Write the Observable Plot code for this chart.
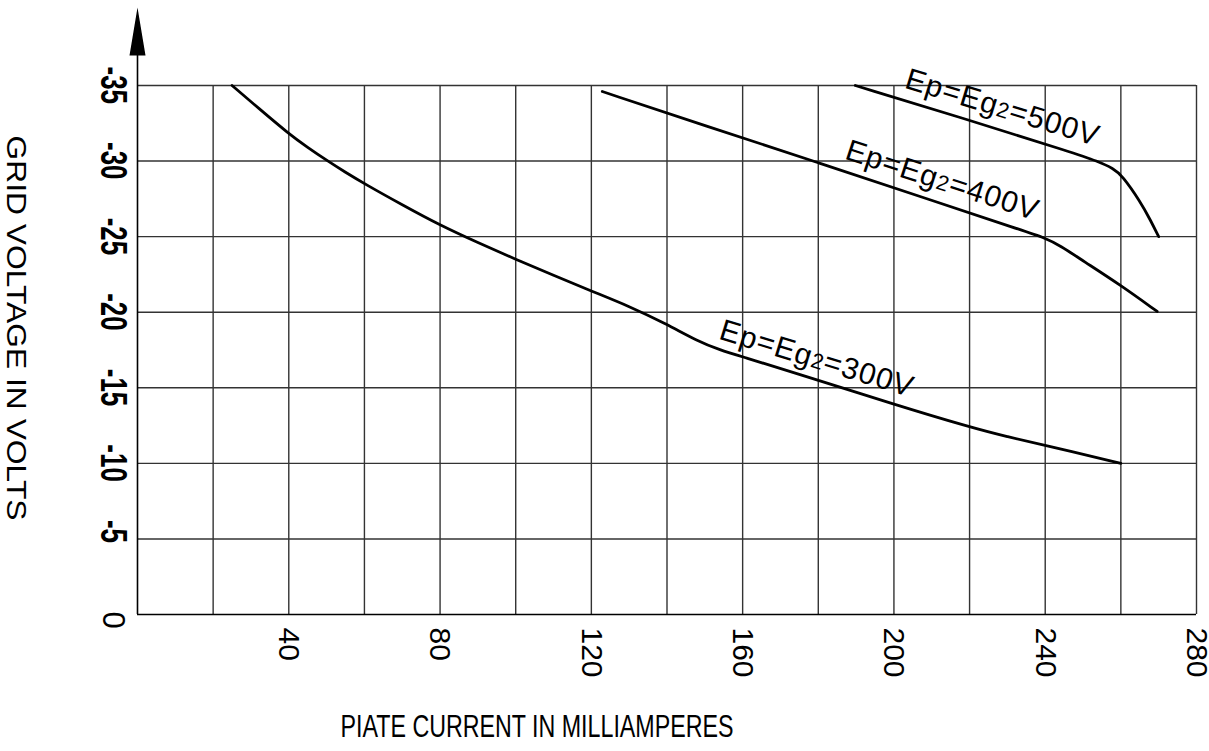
<!DOCTYPE html>
<html>
<head>
<meta charset="utf-8">
<script src="https://cdn.jsdelivr.net/npm/d3@7"></script>
<script src="https://cdn.jsdelivr.net/npm/@observablehq/plot@0.6"></script>
<style>
  body { margin: 0; background: #fff; }
</style>
</head>
<body>
<div id="chart"></div>
<script>
// ---- data ----
const xDomain = [0, 280];
const yDomain = [0, -35];
const xTicks = [40, 80, 120, 160, 200, 240, 280];
const yTicks = [-35, -30, -25, -20, -15, -10, -5];
const zeroTick = [0];

// Ep = Eg2 = 300 V
const current300 = [25, 32, 40, 45, 50, 55, 60, 70, 80, 90, 100, 110, 120, 130, 140, 148, 154, 160, 175, 200, 220, 230, 240, 260];
const grid300    = [-35, -33.5, -31.8, -30.9, -30.05, -29.25, -28.5, -27.1, -25.75, -24.6, -23.5, -22.45, -21.4, -20.4, -19.2, -18.1, -17.5, -17.05, -15.9, -13.9, -12.4, -11.75, -11.2, -10.0];
// Ep = Eg2 = 400 V
const current400 = [122.9, 150, 180, 210, 233.5, 240.1, 244, 250, 259.9, 269.6];
const grid400    = [-34.6, -32.35, -29.9, -27.4, -25.45, -24.9, -24.4, -23.4, -21.8, -20.05];
// Ep = Eg2 = 500 V
const current500 = [189.8, 220, 248, 253.7, 258.1, 260.3, 265.2, 267.8, 270];
const grid500    = [-35, -32.7, -30.5, -30.0, -29.5, -29.05, -27.3, -26.1, -25.0];

const seriesNames = ["300V", "400V", "500V"];
const labelTexts = ["Ep=Eg2=300V", "Ep=Eg2=400V", "Ep=Eg2=500V"];
const labelX = [153.4, 186.7, 202.5];
const labelY = [-18.26, -30.17, -34.87];
const labelAngle = [17, 18, 17];

const xTitle = "PIATE CURRENT IN MILLIAMPERES";
const yTitle = "GRID VOLTAGE IN VOLTS";

// ---- tables ----
const toRows = (name, xs, ys) => xs.map((x, i) => ({series: name, current: x, grid: ys[i]}));
const rows = [
  ...toRows(seriesNames[0], current300, grid300),
  ...toRows(seriesNames[1], current400, grid400),
  ...toRows(seriesNames[2], current500, grid500)
];
const labels = labelTexts.map((t, i) => ({text: t, x: labelX[i], y: labelY[i], angle: labelAngle[i]}));
const gridX = d3.range(20, xDomain[1] + 1, 20);
const gridY = d3.range(5, -yDomain[1] + 1, 5).map(d => -d);

const arrowHead = {
  draw(ctx) {
    ctx.moveTo(0, -78);
    ctx.lineTo(8, -30);
    ctx.lineTo(-8, -30);
    ctx.closePath();
  }
};

const font = "'Liberation Sans', Arial, sans-serif";

const chart = Plot.plot({
  width: 1209,
  height: 751,
  marginLeft: 137,
  marginRight: 13,
  marginTop: 85,
  marginBottom: 137,
  x: {domain: xDomain, axis: null},
  y: {domain: yDomain, axis: null},
  style: {fontFamily: font, background: "white", color: "black", overflow: "visible"},
  marks: [
    Plot.ruleX(gridX, {stroke: "#333", strokeWidth: 1.4}),
    Plot.ruleY(gridY, {stroke: "#333", strokeWidth: 1.4}),
    Plot.ruleY([yDomain[0]], {stroke: "black", strokeWidth: 1.6}),
    Plot.ruleX([xDomain[0]], {stroke: "black", strokeWidth: 1.6, insetTop: -32}),
    Plot.dot([{x: xDomain[0], y: yDomain[1]}], {x: "x", y: "y", symbol: arrowHead, fill: "black", stroke: "none", r: 5}),
    Plot.line(rows, {x: "current", y: "grid", z: "series", stroke: "black", strokeWidth: 2.8, curve: "basis"}),
    Plot.text(labels, {x: "x", y: "y", text: "text", rotate: "angle", textAnchor: "start", lineAnchor: "bottom", fontSize: 30, fill: "black"}),
    // x tick labels
    Plot.text(xTicks, {x: d => d, y: yDomain[0], text: d => String(d), rotate: 90, textAnchor: "start", lineAnchor: "middle", dy: 13, fontSize: 30, fill: "black"}),
    // y tick labels
    Plot.text(yTicks, {x: xDomain[0], y: d => d, text: d => String(d), rotate: 90, textAnchor: "start", lineAnchor: "middle", dx: -25, dy: -19, fontSize: 36, fontWeight: "bold", fill: "black"}),
    Plot.text(zeroTick, {x: xDomain[0], y: d => d, text: d => String(d), rotate: 90, textAnchor: "middle", lineAnchor: "middle", dx: -25, dy: 5.5, fontSize: 31, fill: "black"}),
    // axis titles
    Plot.text([xTitle], {frameAnchor: "bottom", text: d => d, textAnchor: "start", dx: -326.5, dy: 112.5, lineAnchor: "middle", fontSize: 32, fill: "black"}),
    Plot.text([yTitle], {frameAnchor: "left", text: d => d, rotate: 90, textAnchor: "start", dx: -122, dy: -214.5, lineAnchor: "middle", fontSize: 28, fill: "black"})
  ]
});

document.getElementById("chart").appendChild(chart);

// post-processing of text rendering details
const svg = d3.select(chart);
svg.selectAll("text").each(function() {
  const t = this.textContent;
  const sel = d3.select(this);
  if (t === xTitle) {
    sel.attr("textLength", 393).attr("lengthAdjust", "spacingAndGlyphs");
  } else if (t === yTitle) {
    sel.attr("textLength", 385).attr("lengthAdjust", "spacingAndGlyphs");
  } else if (yTicks.map(String).includes(t)) {
    const len = this.getComputedTextLength();
    sel.attr("textLength", len * 0.72).attr("lengthAdjust", "spacingAndGlyphs");
  } else if (/^Ep=Eg2=/.test(t)) {
    const rest = t.slice("Ep=Eg2".length);
    sel.text(null);
    sel.append("tspan").text("Ep=Eg");
    sel.append("tspan").attr("font-size", "0.72em").text("2");
    sel.append("tspan").text(rest);
    sel.style("letter-spacing", "1px");
  }
});
</script>
</body>
</html>
